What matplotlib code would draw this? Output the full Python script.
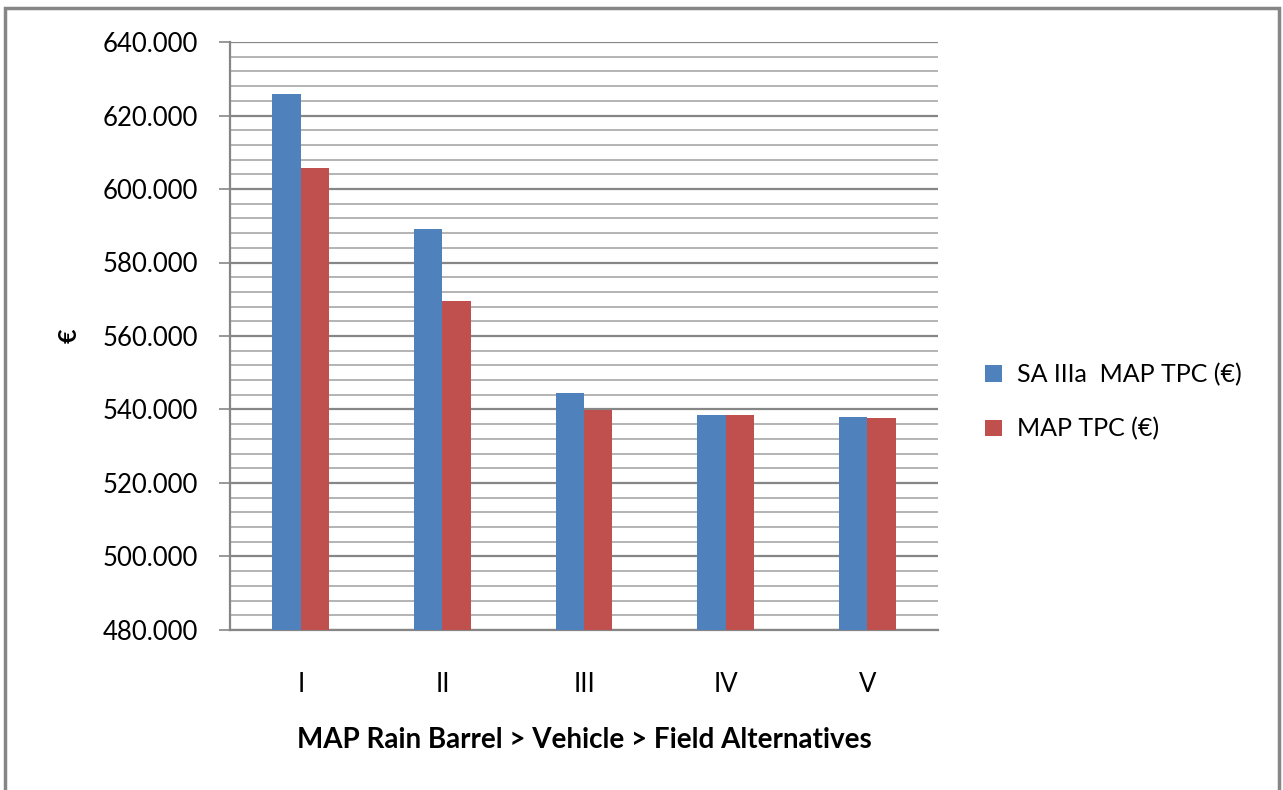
import numpy as np
import matplotlib
matplotlib.use("Agg")
import matplotlib.pyplot as plt
from matplotlib.patches import Rectangle
from matplotlib.ticker import MultipleLocator, FuncFormatter

alternatives = ["I", "II", "III", "IV", "V"]
sa_iiia_tpc = [625800, 589100, 544400, 538600, 538000]
map_tpc = [605700, 569500, 539900, 538600, 537700]
series_labels = ["SA IIIa  MAP TPC (€)", "MAP TPC (€)"]

BLUE = "#4F81BD"
RED = "#C0504D"

plt.rcParams["font.family"] = ["Lato", "DejaVu Sans"]

fig = plt.figure(figsize=(12.83, 7.90), dpi=100)
W, H = 1283, 790
ax = fig.add_axes([230 / W, 1 - 630 / H, (938 - 230) / W, (630 - 42) / H])

x = np.arange(len(alternatives))
bw = 0.2
ax.bar(x - bw / 2, sa_iiia_tpc, bw, color=BLUE, label=series_labels[0], zorder=3)
ax.bar(x + bw / 2, map_tpc, bw, color=RED, label=series_labels[1], zorder=3)

ax.set_xlim(-0.5, len(alternatives) - 0.5)
ax.set_ylim(480000, 640000)
ax.yaxis.set_major_locator(MultipleLocator(20000))
ax.yaxis.set_minor_locator(MultipleLocator(4000))
ax.yaxis.set_major_formatter(FuncFormatter(lambda v, p: f"{v:,.0f}".replace(",", ".")))
ax.grid(axis="y", which="major", color="#868686", lw=1.6, zorder=0)
ax.grid(axis="y", which="minor", color="#b3b3b3", lw=1.4, zorder=0)
ax.set_axisbelow(True)

ax.set_xticks(x)
ax.set_xticklabels(alternatives)
ax.tick_params(axis="x", length=0, pad=30, labelsize=18.5)
ax.tick_params(axis="y", which="major", length=8, width=1.2, color="#868686", pad=15, labelsize=18.5)
ax.tick_params(axis="y", which="minor", length=0)

for s in ["top", "right"]:
    ax.spines[s].set_visible(False)
for s in ["left", "bottom"]:
    ax.spines[s].set_color("#868686")
    ax.spines[s].set_linewidth(1.6)

ax.set_ylabel("€", fontsize=18, fontweight="bold", labelpad=16)
ax.set_xlabel("MAP Rain Barrel > Vehicle > Field Alternatives", fontsize=20,
              fontweight="bold", labelpad=22)

ax.legend(loc="center left", bbox_to_anchor=(1.035, 0.388), frameon=False,
          fontsize=18, handlelength=0.65, handleheight=0.65, handletextpad=0.6,
          labelspacing=1.25)

fig.patches.append(Rectangle((5 / W, -0.01), (1279 - 5) / W, 1 - 8 / H + 0.01,
                             transform=fig.transFigure, fill=False,
                             edgecolor="#868686", lw=2.5))

fig.savefig("out.png", dpi=100)
